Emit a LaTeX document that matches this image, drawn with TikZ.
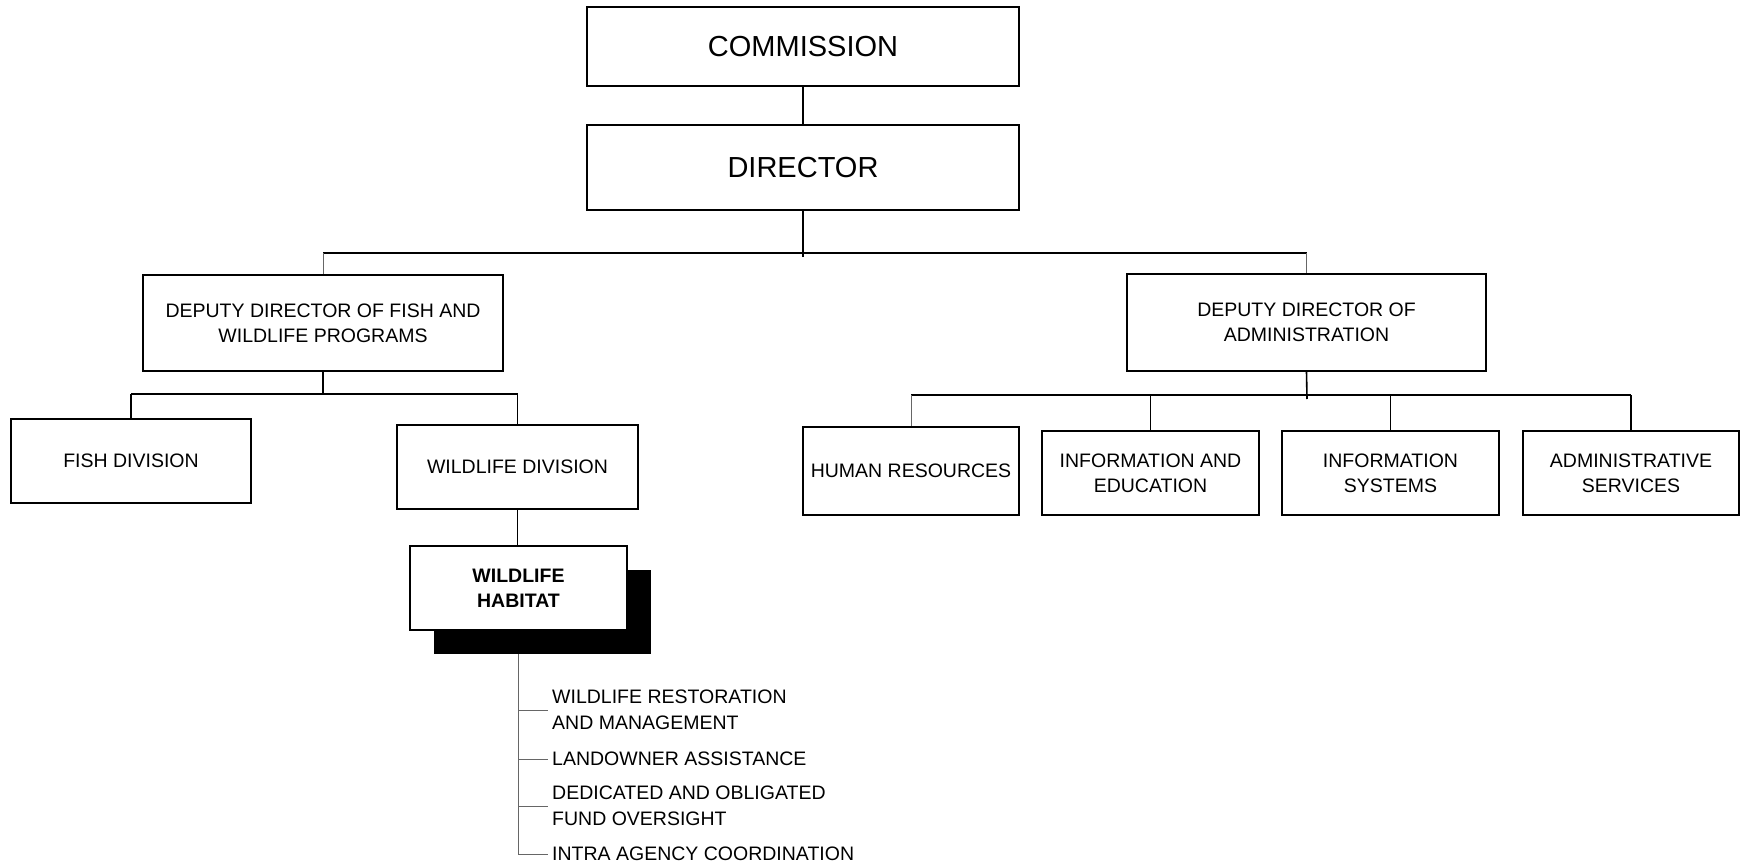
\documentclass[tikz,border=0pt]{standalone}
\usepackage{fontspec}
\setmainfont{Liberation Sans}
\usetikzlibrary{calc,shadows,backgrounds}
\tikzset{box/.style={draw,line width=1.6pt,fill=white,align=center,inner sep=2pt,
    font=\fontsize{19.5}{25}\selectfont},
  bigbox/.style={box,font=\fontsize{29}{34}\selectfont},
  item/.style={anchor=west,align=left,inner sep=4pt,font=\fontsize{19.5}{26}\selectfont},
  link/.style={line width=1.6pt},
  thinlink/.style={line width=1pt,black!60}}

\begin{document}
\begin{tikzpicture}[x=1pt,y=-1pt]
\useasboundingbox (0,0) rectangle (1741,867);
\node[bigbox,minimum width=432pt,minimum height=79pt] (comm) at (803,46.5) {COMMISSION};
\node[bigbox,minimum width=432pt,minimum height=85pt] (dir) at (803,167.5) {DIRECTOR};
\node[box,minimum width=360pt,minimum height=96pt] (ddfish) at (323,323)
  {DEPUTY DIRECTOR OF FISH AND\\WILDLIFE PROGRAMS};
\node[box,minimum width=359pt,minimum height=97pt] (ddadm) at (1306.5,322.5)
  {DEPUTY DIRECTOR OF\\ADMINISTRATION};
\node[box,minimum width=240pt,minimum height=84pt] (fish) at (131,461) {FISH DIVISION};
\node[box,minimum width=241pt,minimum height=84pt] (wild) at (517.5,467) {WILDLIFE DIVISION};
\node[box,minimum width=216pt,minimum height=88pt] (hr) at (911,471) {HUMAN RESOURCES};
\node[box,minimum width=217pt,minimum height=84pt] (infed) at (1150.5,473)
  {INFORMATION AND\\EDUCATION};
\node[box,minimum width=217pt,minimum height=84pt] (infsys) at (1390.5,473)
  {INFORMATION\\SYSTEMS};
\node[box,minimum width=216pt,minimum height=84pt] (admsrv) at (1631,473)
  {ADMINISTRATIVE\\SERVICES};
\node[box,minimum width=217pt,minimum height=84pt,font=\fontsize{19.5}{25}\selectfont\bfseries,
  drop shadow={shadow xshift=24pt,shadow yshift=-24pt,fill=black,opacity=1}]
  (hab) at (518.5,588) {WILDLIFE\\HABITAT};

\node[item] (i1) at (548,710) {WILDLIFE RESTORATION\\AND MANAGEMENT};
\node[item] (i2) at (548,759) {LANDOWNER ASSISTANCE};
\node[item] (i3) at (548,806) {DEDICATED AND OBLIGATED\\FUND OVERSIGHT};
\node[item] (i4) at (548,854) {INTRA AGENCY COORDINATION};

\coordinate (bus1) at (803,253);
\coordinate (bus2) at (323,394);
\coordinate (bus3) at (1307,395);

\draw[link] (comm) -- (dir);
\draw[link] (dir.south) -- ($(bus1)+(0,4)$);
\draw[link] (ddfish.north |- bus1) -- (ddadm.north |- bus1);
\draw[thinlink] (ddfish.north |- bus1) -- (ddfish.north);
\draw[thinlink] (ddadm.north |- bus1) -- (ddadm.north);

\draw[link] (ddfish.south) -- (bus2);
\draw[link] (fish.north |- bus2) -- (wild.north |- bus2);
\foreach \n in {fish,wild}
  \draw[link] (\n.north |- bus2) -- (\n.north);

\draw[link] (ddadm.south) -- ($(bus3)+(0,4)$);
\draw[link] (hr.north |- bus3) -- (admsrv.north |- bus3);
\draw[thinlink] (hr.north |- bus3) -- (hr.north);
\foreach \n in {infed,infsys,admsrv}
  \draw[link] (\n.north |- bus3) -- (\n.north);

\draw[link] (wild.south) -- (wild.south |- hab.north);
\begin{scope}[on background layer]
\draw[thinlink] (hab.south) -- (hab.south |- i4.west) -- (i4.west);
\foreach \n in {i1,i2,i3}
  \draw[thinlink] (hab.south |- \n.west) -- (\n.west);
\end{scope}
\end{tikzpicture}
\end{document}
